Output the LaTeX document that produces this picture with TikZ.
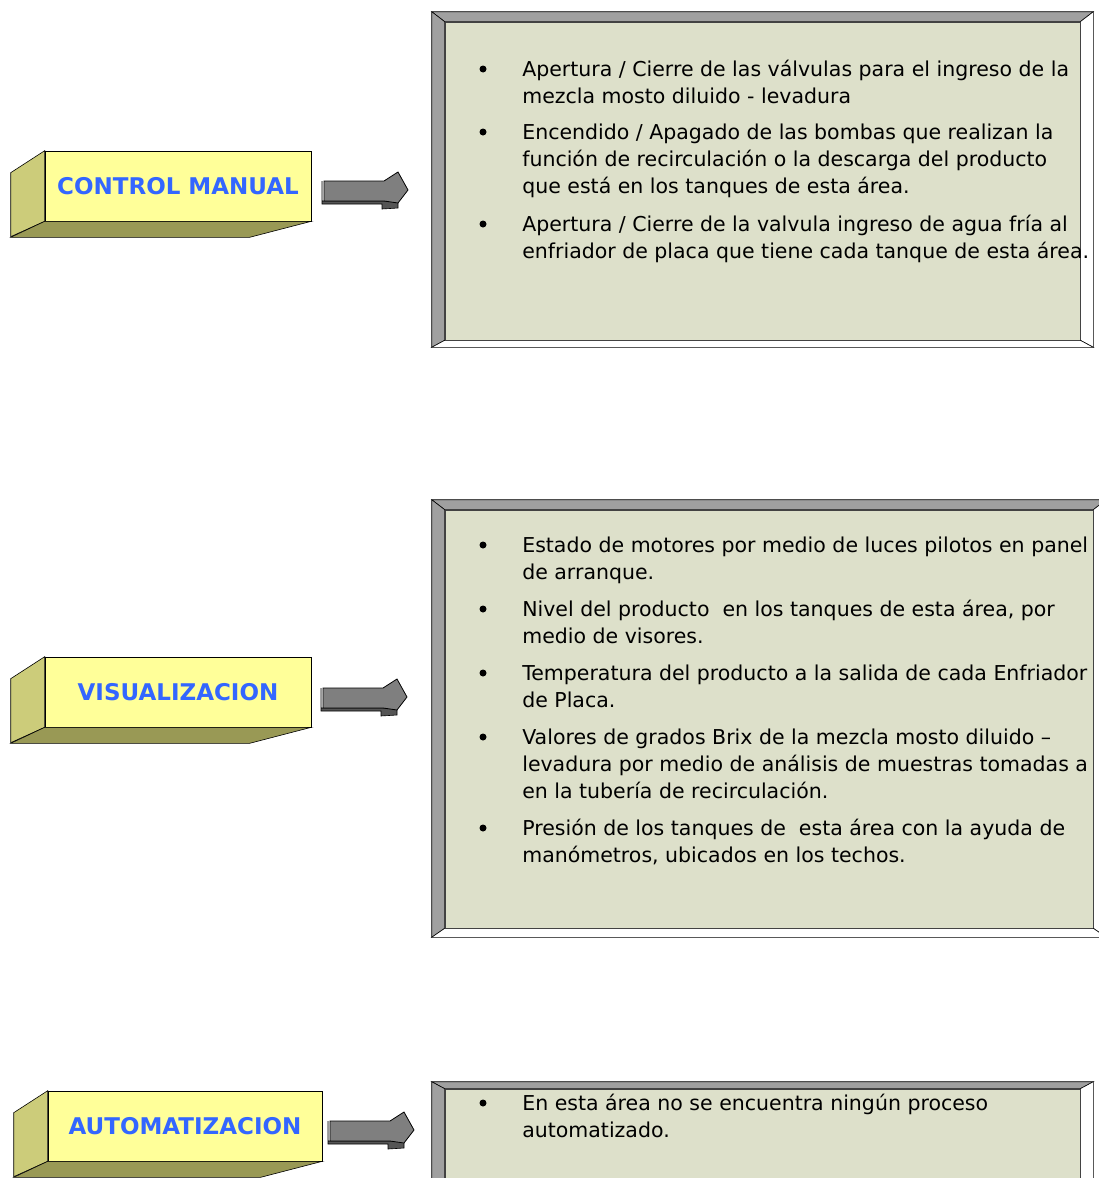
\documentclass[tikz,border=0pt]{standalone}
\usepackage{fontspec}
\setmainfont{DejaVu Sans}
\usetikzlibrary{positioning,calc}

\definecolor{blockfront}{HTML}{FFFF99}
\definecolor{blockside}{HTML}{CCCC7A}
\definecolor{blockbottom}{HTML}{999955}
\definecolor{labelblue}{HTML}{3366FF}
\definecolor{panelface}{HTML}{DDE0CA}
\definecolor{bevelgray}{HTML}{A0A0A0}
\definecolor{arrowgray}{HTML}{7F7F7F}
\definecolor{arrowdark}{HTML}{555555}

\tikzset{
  block/.style={draw=black, fill=blockfront, minimum height=70pt, inner sep=0pt,
    font=\fontsize{23}{27}\selectfont\bfseries, text=labelblue},
  panel/.style={draw=black!70, fill=panelface, inner sep=0pt},
  item/.style={anchor=north west, align=left, inner sep=0pt, font=\fontsize{20.5}{27}\selectfont},
  dot/.style={circle, fill=black, inner sep=0pt, minimum size=7pt},
}

% side and bottom faces of a yellow block
\newcommand{\blockdepth}[2]{
  \filldraw[fill=blockside] (#1.north west) -- ++(-34,22) -- ++(0,64) -- (#1.south west) -- cycle;
  \filldraw[fill=blockbottom] (#1.south west) -- ++(-34,16) -- ++(#2,0) -- (#1.south east) -- cycle;
}

% bevelled frame round a panel
\newcommand{\bevels}[3]{
  \filldraw[fill=bevelgray, draw=black] (#1.north west) -- ++(-13,-#2) -- ($(#1.north east)+(13,-#2)$) -- (#1.north east) -- cycle;
  \filldraw[fill=bevelgray, draw=black] (#1.north west) -- ++(-13,-#2) -- ($(#1.south west)+(-13,#3)$) -- (#1.south west) -- cycle;
  \filldraw[fill=white, draw=black] (#1.north east) -- ++(13,-#2) -- ($(#1.south east)+(13,#3)$) -- (#1.south east) -- cycle;
  \filldraw[fill=white, draw=black] (#1.south west) -- ++(-13,#3) -- ($(#1.south east)+(13,#3)$) -- (#1.south east) -- cycle;
}

% grey block arrow
\newcommand{\grayarrow}[1]{
  \begin{scope}[shift={(#1)}]
    \filldraw[fill=arrowdark, draw=black] (0,0) -- (0,23) -- (60,23) -- (60,28) -- (76,27) -- (76,20) -- (60,20) -- (0,20) -- cycle;
    \filldraw[fill=arrowgray, draw=black, line width=0.8pt] (2,0) -- (62,0) -- (76,-9) -- (86,9) -- (76,22) -- (62,20) -- (2,20) -- cycle;
  \end{scope}
}

\begin{document}
\begin{tikzpicture}[x=1pt, y=-1pt, line width=0.6pt]
\useasboundingbox (0,0) rectangle (1099,1178);
\clip (0,0) rectangle (1099,1178);

% left blocks
\node[block, minimum width=266pt] (ctrl) at (178,186) {CONTROL MANUAL};
\blockdepth{ctrl}{239}
\node[block, minimum width=266pt] (visu) at (178,692) {VISUALIZACION};
\blockdepth{visu}{239}
\node[block, minimum width=274pt] (auto) at (185,1126) {AUTOMATIZACION};
\blockdepth{auto}{247}

% arrows
\coordinate (arrctrl) at (322,181);
\coordinate (arrvisu) at (321,688);
\coordinate (arrauto) at (328,1121);
\grayarrow{arrctrl}
\grayarrow{arrvisu}
\grayarrow{arrauto}

% panels
\node[panel, minimum width=635pt, minimum height=318pt] (pctrl) at (762.5,181) {};
\bevels{pctrl}{10}{7}
\node[panel, minimum width=648pt, minimum height=418pt] (pvisu) at (769,719) {};
\bevels{pvisu}{10}{9}
\node[panel, minimum width=635pt, minimum height=140pt] (pauto) at (762.5,1159) {};
\bevels{pauto}{7}{7}

% items (top of strut = first baseline - 19)
\node[item] (cm1) at (522,57) {\strut Apertura / Cierre de las válvulas para el ingreso de la\\mezcla mosto diluido - levadura};
\node[item] (cm2) at (522,120) {\strut Encendido / Apagado de las bombas que realizan la\\función de recirculación o la descarga del producto\\que está en los tanques de esta área.};
\node[item] (cm3) at (522,212) {\strut Apertura / Cierre de la valvula ingreso de agua fría al\\enfriador de placa que tiene cada tanque de esta área.};

\node[item] (vi1) at (522,533) {\strut Estado de motores por medio de luces pilotos en panel\\de arranque.};
\node[item] (vi2) at (522,597) {\strut Nivel del producto \ en los tanques de esta área, por\\medio de visores.};
\node[item] (vi3) at (522,661) {\strut Temperatura del producto a la salida de cada Enfriador\\de Placa.};
\node[item] (vi4) at (522,725) {\strut Valores de grados Brix de la mezcla mosto diluido –\\levadura por medio de análisis de muestras tomadas a\\en la tubería de recirculación.};
\node[item] (vi5) at (522,816) {\strut Presión de los tanques de \ esta área con la ayuda de\\manómetros, ubicados en los techos.};

\node[item] (au1) at (522,1091) {\strut En esta área no se encuentra ningún proceso\\automatizado.};

\foreach \m in {cm1,cm2,cm3,vi1,vi2,vi3,vi4,vi5,au1}
  \node[dot] at ($(\m.north west)+(-39,12)$) {};
\end{tikzpicture}
\end{document}
